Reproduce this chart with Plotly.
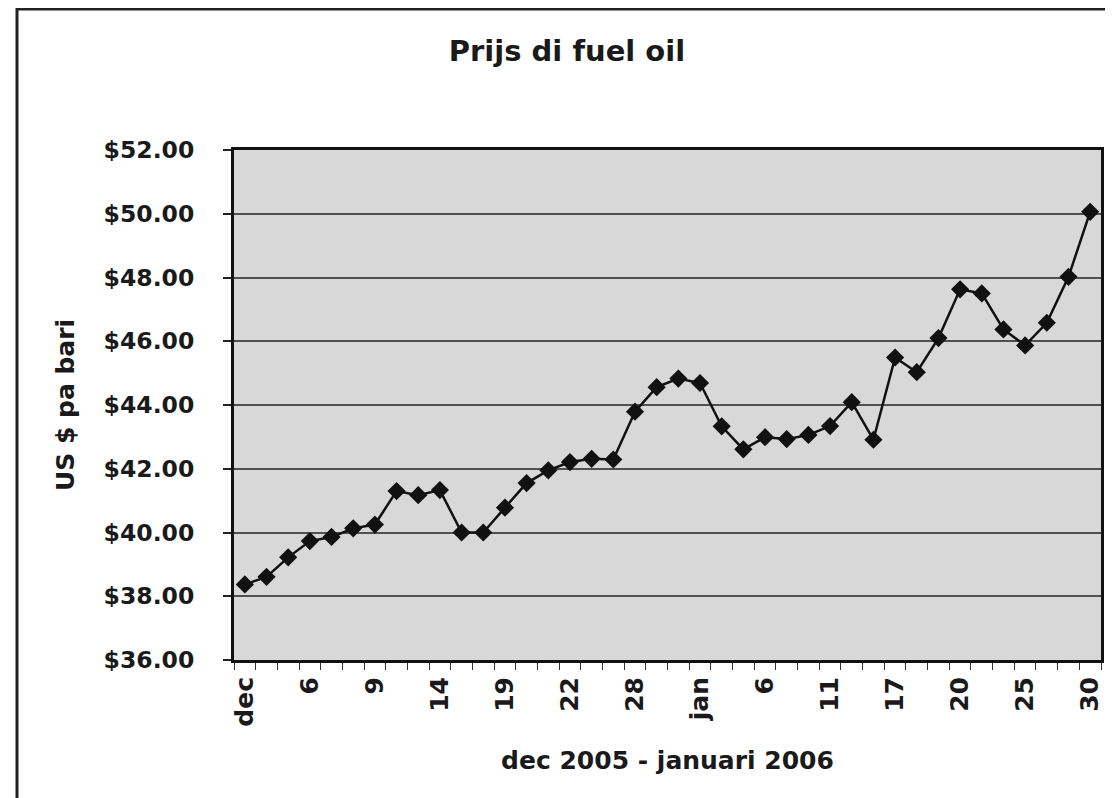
import plotly.graph_objects as go

# Data
day_index = list(range(40))
prices = [38.37, 38.61, 39.22, 39.73, 39.86, 40.13, 40.25, 41.30, 41.17, 41.33,
          40.00, 40.00, 40.78, 41.55, 41.95, 42.21, 42.31, 42.29, 43.79, 44.56,
          44.83, 44.69, 43.33, 42.61, 42.99, 42.93, 43.06, 43.34, 44.09, 42.91,
          45.49, 45.03, 46.10, 47.63, 47.50, 46.37, 45.87, 46.58, 48.02, 50.06]
tick_positions = [0, 3, 6, 9, 12, 15, 18, 21, 24, 27, 30, 33, 36, 39]
tick_labels = ["dec", "6", "9", "14", "19", "22", "28", "jan", "6", "11",
               "17", "20", "25", "30"]
y_ticks = [36, 38, 40, 42, 44, 46, 48, 50, 52]
y_tick_labels = ["$%.2f" % v for v in y_ticks]

FONT = "DejaVu Sans"
W, H = 1113, 798
L, R, T, B = 226, 20, 142, 146
pw = W - L - R
ph = H - T - B

fig = go.Figure()
fig.add_trace(go.Scatter(
    x=day_index, y=prices, mode="lines+markers",
    line=dict(color="#111111", width=2.5),
    marker=dict(symbol="diamond", size=14, color="#111111"),
    showlegend=False,
))

fig.update_layout(
    width=W, height=H,
    margin=dict(l=L, r=R, t=T, b=B, autoexpand=False),
    paper_bgcolor="white",
    plot_bgcolor="#d8d8d8",
    font=dict(family=FONT, color="#1a1a1a", size=23, weight="bold"),
    title=dict(text="Prijs di fuel oil", x=559 / W, xanchor="center",
               y=1 - 43 / H, yanchor="middle", xref="container", yref="container",
               font=dict(family=FONT, size=29, color="#1a1a1a", weight="bold")),
    xaxis=dict(
        range=[-0.5, 39.5],
        tickmode="array", tickvals=tick_positions, ticktext=tick_labels,
        tickangle=-90, ticks="", showgrid=False, zeroline=False,
        tickfont=dict(family=FONT, size=25, weight="bold"),
        ticklabelstandoff=4,
        minor=dict(ticks="outside", tick0=-0.5, dtick=1, ticklen=7,
                   tickcolor="#333333", tickwidth=1, showgrid=False),
        showline=True, linecolor="#111111", linewidth=3, mirror=True,
        title=dict(text="dec 2005 - januari 2006", standoff=26,
                   font=dict(family=FONT, size=25, weight="bold")),
    ),
    yaxis=dict(
        range=[36, 52],
        tickmode="array", tickvals=y_ticks, ticktext=y_tick_labels,
        ticks="outside", ticklen=8, tickcolor="#222222", tickwidth=1.5,
        ticklabelstandoff=24,
        tickfont=dict(family=FONT, size=23.5, weight="bold"),
        showgrid=True, gridcolor="#505050", gridwidth=1.5, zeroline=False,
        showline=True, linecolor="#111111", linewidth=3, mirror=True,
        title=dict(text="US $ pa bari", standoff=22,
                   font=dict(family=FONT, size=25, weight="bold")),
    ),
    shapes=[dict(type="rect", xref="paper", yref="paper",
                 x0=(9 - L) / pw, x1=(W + 10 - L) / pw,
                 y0=-(H + 10 - (H - B)) / ph, y1=(H - B - 1) / ph,
                 line=dict(color="#222222", width=3), fillcolor="rgba(0,0,0,0)",
                 layer="above")],
)

fig.write_html("out.html")
